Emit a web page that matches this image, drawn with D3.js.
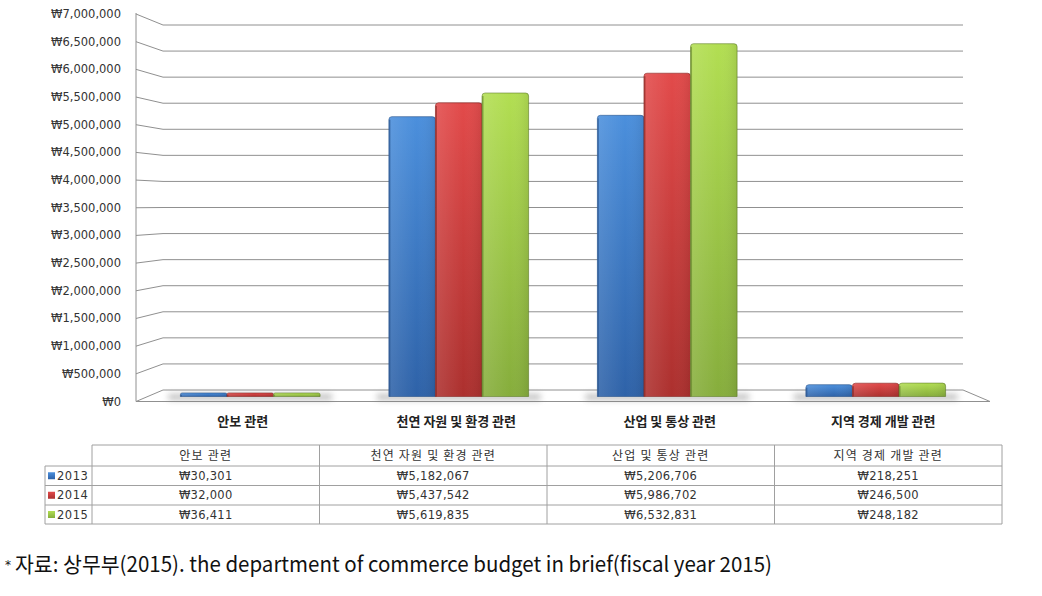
<!DOCTYPE html>
<html><head><meta charset="utf-8">
<script src="https://cdn.jsdelivr.net/npm/d3@7"></script>
<style>
body{margin:0;background:#fff;}
svg{display:block;}
</style></head>
<body>
<svg id="chart" width="1042" height="596"></svg>
<script>
const categories = ["안보 관련", "천연 자원 및 환경 관련", "산업 및 통상 관련", "지역 경제 개발 관련"];
const years = ["2013", "2014", "2015"];
const values2013 = [30301, 5182067, 5206706, 218251];
const values2014 = [32000, 5437542, 5986702, 246500];
const values2015 = [36411, 5619835, 6532831, 248182];
const tickValues = d3.range(0, 7000001, 500000);
const tableLabels2013 = ["₩30,301", "₩5,182,067", "₩5,206,706", "₩218,251"];
const tableLabels2014 = ["₩32,000", "₩5,437,542", "₩5,986,702", "₩246,500"];
const tableLabels2015 = ["₩36,411", "₩5,619,835", "₩6,532,831", "₩248,182"];
const footnote = "자료: 상무부(2015). the department of commerce budget in brief(fiscal year 2015)";

const series = [values2013, values2014, values2015];
const tableRows = [tableLabels2013, tableLabels2014, tableLabels2015];
const colors = [
  {top:"#4b8fdc", bot:"#2e62a8", edge:"#244f88"},
  {top:"#e24a4a", bot:"#ac302e", edge:"#852420"},
  {top:"#b2de52", bot:"#86ad3c", edge:"#5f7e28"}
];

const svg = d3.select("#chart");
const defs = svg.append("defs");
colors.forEach((c,i)=>{
  const g = defs.append("linearGradient").attr("id","g"+i).attr("x1",0).attr("y1",0).attr("x2",0).attr("y2",1);
  g.append("stop").attr("offset","0%").attr("stop-color",c.top);
  g.append("stop").attr("offset","100%").attr("stop-color",c.bot);
  const h = defs.append("linearGradient").attr("id","h"+i).attr("x1",0).attr("y1",0).attr("x2",1).attr("y2",0);
  h.append("stop").attr("offset","0%").attr("stop-color","#fff").attr("stop-opacity",0.12);
  h.append("stop").attr("offset","60%").attr("stop-color","#fff").attr("stop-opacity",0);
  h.append("stop").attr("offset","100%").attr("stop-color","#000").attr("stop-opacity",0.08);
});
defs.append("filter").attr("id","blur").attr("x","-20%").attr("y","-200%").attr("width","140%").attr("height","500%")
  .append("feGaussianBlur").attr("stdDeviation",3);

// geometry
const axisX = 136, backX = 163, backRight = 963, frontRight = 990;
const yFront = d3.scaleLinear().domain([0,7000000]).range([401.5,14]);
const yBack = d3.scaleLinear().domain([0,7000000]).range([390,25]);
const yBar = d3.scaleLinear().domain([0,7000000]).range([396.5,18.5]);
const xBand = d3.scaleBand().domain(categories).range([146,980]).paddingInner(0.33).paddingOuter(0.165);
const xSub = d3.scaleBand().domain(years).range([0,xBand.bandwidth()]);
const xLabel = d3.scaleBand().domain(categories).range([axisX,frontRight]);

// floor
svg.append("path")
  .attr("d",`M${axisX},${yFront(0)}L${backX},${yBack(0)}L${backRight},${yBack(0)}L${frontRight},${yFront(0)}Z`)
  .attr("fill","#fff").attr("stroke","#909090").attr("stroke-width",1);

// gridlines with perspective
const grid = svg.append("g");
tickValues.forEach(v=>{
  if (v===0) return;
  grid.append("path")
    .attr("d",`M${axisX},${yFront(v)}L${backX},${yBack(v)}L${backRight},${yBack(v)}`)
    .attr("fill","none").attr("stroke","#909090").attr("stroke-width",1);
});
// axis line
svg.append("line").attr("x1",axisX).attr("x2",axisX).attr("y1",yFront(7000000)-1).attr("y2",yFront(0))
  .attr("stroke","#909090");

// tick labels
const fmt = v => "₩" + d3.format(",")(v);
svg.append("g").selectAll("text").data(tickValues).join("text")
  .attr("x",121).attr("y",d=>yFront(d)).attr("dy","0.35em")
  .attr("text-anchor","end").attr("font-family","DejaVu Sans, sans-serif").attr("font-size",11.5)
  .attr("fill","#333").text(fmt);

// bars
const barsG = svg.append("g");
categories.forEach((cat,ci)=>{
  const gx = xBand(cat);
  barsG.append("rect").attr("x",gx-12).attr("y",yBar(0)-2).attr("width",xBand.bandwidth()+24).attr("height",5)
    .attr("fill","#777").attr("opacity",0.55).attr("filter","url(#blur)");
  series.forEach((vals,si)=>{
    const x = gx + xSub(years[si]);
    const w = xSub.bandwidth();
    const y0 = yBar(0);
    let y1 = yBar(vals[ci]);
    if (y0 - y1 < 3.5) y1 = y0 - 3.5;
    const r = Math.min(3,(y0-y1)/2);
    const path = `M${x},${y0}L${x},${y1+r}Q${x},${y1} ${x+r},${y1}L${x+w-r},${y1}Q${x+w},${y1} ${x+w},${y1+r}L${x+w},${y0}Z`;
    barsG.append("path").attr("d",path).attr("fill",`url(#g${si})`).attr("stroke",colors[si].edge).attr("stroke-width",0.6);
    barsG.append("path").attr("d",path).attr("fill",`url(#h${si})`);
    barsG.append("rect").attr("x",x).attr("y",y1+r).attr("width",1.5).attr("height",Math.max(0,y0-y1-r))
      .attr("fill",colors[si].edge).attr("opacity",0.6);
  });
});

// category labels
svg.append("g").selectAll("text").data(categories).join("text")
  .attr("x",d=>xLabel(d)+xLabel.bandwidth()/2).attr("y",421).attr("dy","0.35em")
  .attr("text-anchor","middle").attr("font-family","Noto Sans CJK KR, sans-serif").attr("font-weight","bold")
  .attr("font-size",13).attr("fill","#222").text(d=>d);

// data table
const tLeft = 45, tFirst = 92, colW = (1002-92)/4;
const rowY = [445, 466, 485.5, 505, 524];
const tbl = svg.append("g").attr("stroke","#a0a0a0").attr("stroke-width",1).attr("fill","none");
tbl.append("line").attr("x1",tFirst).attr("x2",1002).attr("y1",rowY[0]).attr("y2",rowY[0]);
for (let i=1;i<rowY.length;i++) tbl.append("line").attr("x1",tLeft).attr("x2",1002).attr("y1",rowY[i]).attr("y2",rowY[i]);
tbl.append("line").attr("x1",tLeft).attr("x2",tLeft).attr("y1",rowY[1]).attr("y2",rowY[4]);
for (let c=0;c<=4;c++) tbl.append("line").attr("x1",tFirst+c*colW).attr("x2",tFirst+c*colW).attr("y1",rowY[0]).attr("y2",rowY[4]);

const tt = svg.append("g").attr("fill","#333");
categories.forEach((cat,ci)=>{
  tt.append("text").attr("x",tFirst+colW*ci+colW/2).attr("y",(rowY[0]+rowY[1])/2).attr("dy","0.35em")
    .attr("text-anchor","middle").attr("font-family","Noto Sans CJK KR, sans-serif").attr("font-size",12)
    .attr("letter-spacing",1.2).attr("fill","#333").text(cat);
});
tableRows.forEach((row,ri)=>{
  const cy = (rowY[ri+1]+rowY[ri+2])/2;
  tt.append("rect").attr("x",48).attr("y",cy-3.5).attr("width",7).attr("height",7).attr("fill",`url(#g${ri})`);
  tt.append("text").attr("x",57).attr("y",cy).attr("dy","0.35em").attr("font-family","DejaVu Sans, sans-serif")
    .attr("font-size",11.5).attr("letter-spacing",0.5).text(years[ri]);
  row.forEach((lab,ci)=>{
    tt.append("text").attr("x",tFirst+colW*ci+colW/2).attr("y",cy).attr("dy","0.35em")
      .attr("text-anchor","middle").attr("font-family","DejaVu Sans, sans-serif").attr("font-size",11.5)
      .attr("letter-spacing",0.3).text(lab);
  });
});

// footnote
svg.append("text").attr("x",5).attr("y",569).attr("font-family","DejaVu Sans, sans-serif").attr("font-size",12)
  .attr("fill","#111").text("*");
svg.append("text").attr("x",15).attr("y",565).attr("dy","0.35em")
  .attr("font-family","Liberation Sans Narrow, Noto Sans CJK KR, sans-serif")
  .attr("font-size",21).attr("fill","#111").attr("textLength",757).attr("lengthAdjust","spacingAndGlyphs")
  .text(footnote);
</script>
</body></html>
